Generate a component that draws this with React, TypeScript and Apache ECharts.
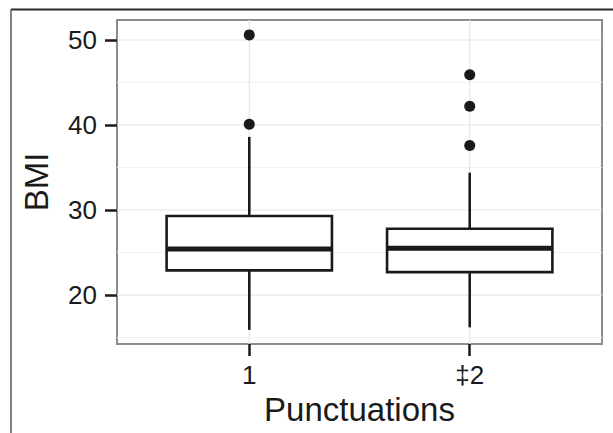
import React, { useEffect, useRef } from "react";
import * as echarts from "echarts";

const categories = ["1", "\u20212"];
const positions = [1, 2];
const whiskerLow = [15.9, 16.2];
const q1 = [22.9, 22.7];
const median = [25.4, 25.5];
const q3 = [29.3, 27.8];
const whiskerHigh = [38.6, 34.4];
const outlierGroup = [1, 1, 2, 2, 2];
const outlierValue = [50.6, 40.1, 45.9, 42.2, 37.6];
const yMajorTicks = [20, 30, 40, 50];
const yMinorTicks = [15, 25, 35, 45];

const X_MIN = 0.4;
const X_MAX = 2.6;
const Y_MIN = 14.24;
const Y_MAX = 52.35;
const FONT = "'Liberation Sans', Arial, Helvetica, sans-serif";
const INK = "#1a1a1a";

export default function App() {
  const ref = useRef<HTMLDivElement>(null);
  useEffect(() => {
    if (!ref.current) return;
    document.body.style.margin = "0";
    const chart = echarts.init(ref.current, null, { renderer: "svg" });
    const boxData = positions.map((p, i) => [p, whiskerLow[i], q1[i], median[i], q3[i], whiskerHigh[i]]);
    const hGrid = [
      ...yMinorTicks.map((v) => [v, 0]),
      ...yMajorTicks.map((v) => [v, 1]),
    ];
    const option: any = {
      animation: false,
      backgroundColor: "#ffffff",
      grid: {
        left: 117,
        right: 11,
        top: 20,
        bottom: 89,
        show: true,
        borderColor: "#8c8c8c",
        borderWidth: 2,
        backgroundColor: "#ffffff",
      },
      xAxis: {
        type: "value",
        min: X_MIN,
        max: X_MAX,
        axisLine: { show: false },
        splitLine: { show: false },
        axisTick: {
          show: true,
          customValues: positions,
          length: 12,
          lineStyle: { color: INK, width: 2.5 },
        },
        axisLabel: {
          customValues: positions,
          formatter: (v: number) => {
            const idx = positions.indexOf(Math.round(v));
            return idx >= 0 ? categories[idx] : "";
          },
          fontFamily: FONT,
          fontSize: 26,
          color: INK,
          margin: 18,
        },
        name: "Punctuations",
        nameLocation: "middle",
        nameGap: 48,
        nameTextStyle: { fontFamily: FONT, fontSize: 33, color: INK },
      },
      yAxis: {
        type: "value",
        min: Y_MIN,
        max: Y_MAX,
        axisLine: { show: false },
        splitLine: { show: false },
        axisTick: {
          show: true,
          customValues: yMajorTicks,
          length: 12,
          lineStyle: { color: INK, width: 2.5 },
        },
        axisLabel: {
          customValues: yMajorTicks,
          fontFamily: FONT,
          fontSize: 26,
          color: INK,
          margin: 20,
        },
        name: "BMI",
        nameLocation: "middle",
        nameRotate: 90,
        nameGap: 64,
        nameTextStyle: { fontFamily: FONT, fontSize: 33, color: INK },
      },
      graphic: [
        {
          type: "line",
          shape: { x1: 11, y1: 9.5, x2: 613, y2: 9.5 },
          style: { stroke: "#2a2a2a", lineWidth: 2 },
          silent: true,
        },
        {
          type: "line",
          shape: { x1: 11, y1: 9.5, x2: 11, y2: 433 },
          style: { stroke: "#555555", lineWidth: 1.5 },
          silent: true,
        },
      ],
      series: [
        {
          type: "custom",
          name: "hgrid",
          silent: true,
          z: 0,
          data: hGrid,
          encode: { y: 0 },
          renderItem: (params: any, api: any) => {
            const v = api.value(0);
            const major = api.value(1) === 1;
            const a = api.coord([X_MIN, v]);
            const b = api.coord([X_MAX, v]);
            return {
              type: "line",
              shape: { x1: a[0], y1: a[1], x2: b[0], y2: b[1] },
              style: { stroke: major ? "#e6e6e6" : "#f2f2f2", lineWidth: major ? 1.2 : 1 },
            };
          },
        },
        {
          type: "custom",
          name: "vgrid",
          silent: true,
          z: 0,
          data: positions.map((p) => [p]),
          encode: { x: 0 },
          renderItem: (params: any, api: any) => {
            const x = api.value(0);
            const a = api.coord([x, Y_MIN]);
            const b = api.coord([x, Y_MAX]);
            return {
              type: "line",
              shape: { x1: a[0], y1: a[1], x2: b[0], y2: b[1] },
              style: { stroke: "#e6e6e6", lineWidth: 1.2 },
            };
          },
        },
        {
          type: "custom",
          name: "box",
          z: 2,
          data: boxData,
          encode: { x: 0, y: [1, 2, 3, 4, 5] },
          renderItem: (params: any, api: any) => {
            const x = api.value(0);
            const pLow = api.coord([x, api.value(1)]);
            const pQ1 = api.coord([x, api.value(2)]);
            const pMed = api.coord([x, api.value(3)]);
            const pQ3 = api.coord([x, api.value(4)]);
            const pHigh = api.coord([x, api.value(5)]);
            const halfW = api.size([0.75, 0])[0] / 2;
            const stroke = { stroke: INK, lineWidth: 2.6 };
            return {
              type: "group",
              children: [
                {
                  type: "line",
                  shape: { x1: pQ3[0], y1: pQ3[1], x2: pHigh[0], y2: pHigh[1] },
                  style: stroke,
                },
                {
                  type: "line",
                  shape: { x1: pLow[0], y1: pLow[1], x2: pQ1[0], y2: pQ1[1] },
                  style: stroke,
                },
                {
                  type: "rect",
                  shape: {
                    x: pQ1[0] - halfW,
                    y: pQ3[1],
                    width: halfW * 2,
                    height: pQ1[1] - pQ3[1],
                  },
                  style: { fill: "#ffffff", stroke: INK, lineWidth: 2.6 },
                },
                {
                  type: "line",
                  shape: { x1: pMed[0] - halfW, y1: pMed[1], x2: pMed[0] + halfW, y2: pMed[1] },
                  style: { stroke: INK, lineWidth: 5 },
                },
              ],
            };
          },
        },
        {
          type: "scatter",
          name: "outliers",
          z: 3,
          symbol: "circle",
          symbolSize: 11,
          itemStyle: { color: INK, opacity: 1 },
          data: outlierGroup.map((g, i) => [g, outlierValue[i]]),
        },
      ],
    };
    chart.setOption(option);
    return () => chart.dispose();
  }, []);
  return <div ref={ref} style={{ width: 613, height: 433 }} />;
}
